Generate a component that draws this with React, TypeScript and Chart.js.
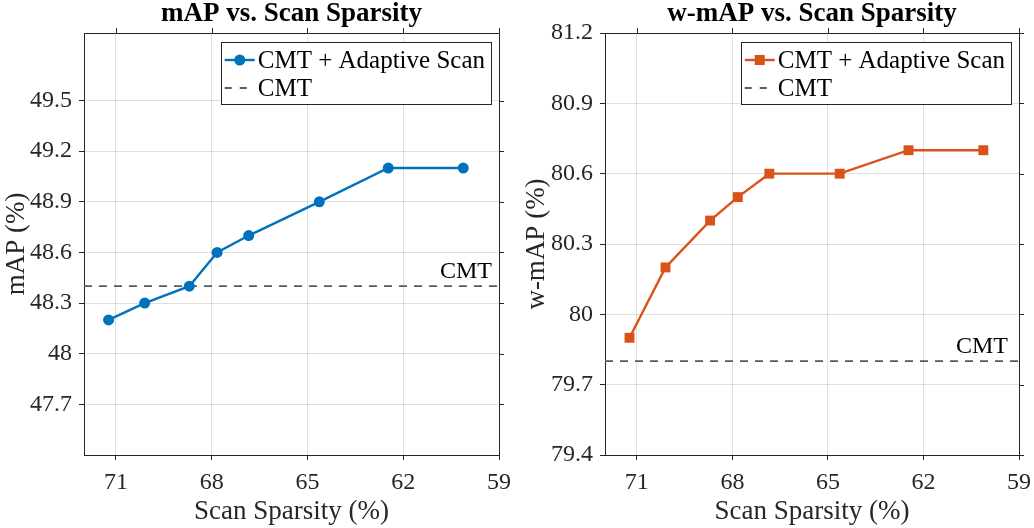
import React, { useEffect, useRef } from "react";
import { Chart, registerables } from "chart.js";

Chart.register(...registerables);

// ---------- data ----------
const sparsity = [71.23, 70.1, 68.7, 67.83, 66.84, 64.63, 62.47, 60.12];
const mapAdaptive = [48.2, 48.3, 48.4, 48.6, 48.7, 48.9, 49.1, 49.1];
const wmapAdaptive = [79.9, 80.2, 80.4, 80.5, 80.6, 80.6, 80.7, 80.7];
const mapCMT = 48.4;
const wmapCMT = 79.8;
const xRange = [59, 72];
const xTicks = [71, 68, 65, 62, 59];
const mapRange = [47.4, 49.9];
const mapTicks = [47.7, 48, 48.3, 48.6, 48.9, 49.2, 49.5];
const wmapRange = [79.4, 81.2];
const wmapTicks = [79.4, 79.7, 80, 80.3, 80.6, 80.9, 81.2];
const titles = ["mAP vs. Scan Sparsity", "w-mAP vs. Scan Sparsity"];
const yLabels = ["mAP (%)", "w-mAP (%)"];
const xLabel = "Scan Sparsity (%)";
const legendLabels = ["CMT + Adaptive Scan", "CMT"];

// ---------- style ----------
const FAMILY = '"Liberation Serif", "Times New Roman", serif';
const AXIS = "#262626";
const GRID = "rgba(38,38,38,0.15)";
const BLUE = "#0072BD";
const ORANGE = "#D95319";
const DASH = "#5a5a5a";
const DASH_PATTERN = [8, 7];

const decor = {
  id: "decor",
  afterDraw(chart: any, _args: any, opts: any) {
    const { ctx, chartArea: a, scales } = chart;
    const xs = scales.x;
    const ys = scales.y;
    ctx.save();
    // box top/right + outward ticks
    ctx.strokeStyle = AXIS;
    ctx.lineWidth = 1;
    ctx.beginPath();
    ctx.moveTo(a.left, a.top + 0.5);
    ctx.lineTo(a.right + 0.5, a.top + 0.5);
    ctx.lineTo(a.right + 0.5, a.bottom);
    for (const v of opts.xTicks) {
      const px = Math.round(xs.getPixelForValue(v)) + 0.5;
      ctx.moveTo(px, a.top);
      ctx.lineTo(px, a.top - 5);
    }
    for (const v of opts.yTicks) {
      const py = Math.round(ys.getPixelForValue(v)) + 0.5;
      ctx.moveTo(a.right, py);
      ctx.lineTo(a.right + 5, py);
    }
    ctx.stroke();

    // title
    ctx.fillStyle = "#000";
    ctx.font = `bold 27px ${FAMILY}`;
    ctx.textAlign = "center";
    ctx.textBaseline = "alphabetic";
    ctx.fillText(opts.title, (a.left + a.right) / 2, 21);

    // CMT label near dashed line
    const ly = ys.getPixelForValue(opts.cmt);
    ctx.font = `24px ${FAMILY}`;
    ctx.textAlign = "right";
    ctx.fillStyle = "#000";
    ctx.fillText("CMT", a.right - opts.cmtOffset, ly - 8);

    // legend
    ctx.font = `25px ${FAMILY}`;
    const tw = Math.max(...opts.labels.map((t: string) => ctx.measureText(t).width));
    const bw = 37 + tw + 6;
    const bh = 62;
    const bx = a.right - 8 - bw;
    const by = a.top + 9;
    ctx.fillStyle = "#fff";
    ctx.fillRect(bx, by, bw, bh);
    ctx.strokeStyle = AXIS;
    ctx.lineWidth = 1;
    ctx.strokeRect(Math.round(bx) + 0.5, by + 0.5, Math.round(bw), bh);
    const r1 = by + 18;
    const r2 = by + 46;
    // sample 1
    ctx.strokeStyle = opts.color;
    ctx.lineWidth = 2.4;
    ctx.beginPath();
    ctx.moveTo(bx + 4, r1);
    ctx.lineTo(bx + 34, r1);
    ctx.stroke();
    ctx.fillStyle = opts.color;
    if (opts.marker === "circle") {
      ctx.beginPath();
      ctx.arc(bx + 19, r1, 5.5, 0, Math.PI * 2);
      ctx.fill();
    } else {
      ctx.fillRect(bx + 19 - 5, r1 - 5, 10, 10);
    }
    // sample 2
    ctx.strokeStyle = DASH;
    ctx.lineWidth = 1.8;
    ctx.setLineDash([7, 8]);
    ctx.beginPath();
    ctx.moveTo(bx + 4, r2);
    ctx.lineTo(bx + 34, r2);
    ctx.stroke();
    ctx.setLineDash([]);
    ctx.fillStyle = "#000";
    ctx.textAlign = "left";
    ctx.textBaseline = "middle";
    ctx.fillText(opts.labels[0], bx + 37, r1 + 1);
    ctx.fillText(opts.labels[1], bx + 37, r2 + 1);
    ctx.restore();
  },
};

function fmt(v: any) {
  return String(Number(Number(v).toFixed(1)));
}

function makeConfig(p: any): any {
  const tickFont = { family: FAMILY, size: 24 };
  const titleFont = { family: FAMILY, size: 27 };
  return {
    type: "line",
    data: {
      datasets: [
        {
          label: legendLabels[0],
          data: sparsity.map((x, i) => ({ x, y: p.values[i] })),
          borderColor: p.color,
          backgroundColor: p.color,
          borderWidth: 2.4,
          pointStyle: p.marker === "circle" ? "circle" : "rect",
          pointRadius: p.marker === "circle" ? 5.5 : 7,
          pointBorderWidth: 0,
          pointHoverRadius: 0,
        },
        {
          label: legendLabels[1],
          data: [
            { x: xRange[1], y: p.cmt },
            { x: xRange[0], y: p.cmt },
          ],
          borderColor: DASH,
          borderWidth: 1.8,
          borderDash: DASH_PATTERN,
          pointRadius: 0,
        },
      ],
    },
    options: {
      animation: false,
      responsive: true,
      maintainAspectRatio: false,
      events: [],
      layout: { padding: { top: 33, right: p.padRight, left: 0, bottom: 0 } },
      plugins: {
        legend: { display: false },
        tooltip: { enabled: false },
        title: { display: false },
        decor: {
          title: p.title,
          cmt: p.cmt,
          cmtOffset: p.cmtOffset,
          labels: legendLabels,
          color: p.color,
          marker: p.marker,
          xTicks,
          yTicks: p.ticks,
        },
      },
      scales: {
        x: {
          type: "linear",
          min: xRange[0],
          max: xRange[1],
          reverse: true,
          afterBuildTicks: (s: any) => {
            s.ticks = xTicks.map((v) => ({ value: v }));
          },
          afterFit: (s: any) => {
            s.height = 73;
            s.paddingLeft = 0;
            s.paddingRight = 0;
          },
          grid: { color: GRID, tickColor: AXIS, tickLength: 5, drawTicks: true },
          border: { color: AXIS, width: 1 },
          ticks: {
            font: tickFont,
            color: AXIS,
            padding: 8,
            maxRotation: 0,
            autoSkip: false,
            callback: fmt,
          },
          title: {
            display: true,
            text: xLabel,
            font: titleFont,
            color: AXIS,
            padding: { top: 0, bottom: 0 },
          },
        },
        y: {
          type: "linear",
          min: p.range[0],
          max: p.range[1],
          afterBuildTicks: (s: any) => {
            s.ticks = p.ticks.map((v: number) => ({ value: v }));
          },
          afterFit: (s: any) => {
            s.width = p.yWidth;
            s.paddingTop = 0;
            s.paddingBottom = 0;
          },
          grid: { color: GRID, tickColor: AXIS, tickLength: 5, drawTicks: true },
          border: { color: AXIS, width: 1 },
          ticks: {
            font: tickFont,
            color: AXIS,
            padding: 7,
            autoSkip: false,
            callback: fmt,
          },
          title: {
            display: true,
            text: p.yLabel,
            font: titleFont,
            color: AXIS,
            padding: { top: p.yTitlePad, bottom: 0 },
          },
        },
      },
    },
    plugins: [decor],
  };
}

function Panel(props: { cfg: any; left: number; width: number }) {
  const ref = useRef<HTMLCanvasElement | null>(null);
  useEffect(() => {
    if (!ref.current) return;
    const chart = new Chart(ref.current, makeConfig(props.cfg));
    return () => chart.destroy();
  }, []);
  return (
    <div
      style={{
        position: "absolute",
        left: props.left,
        top: 0,
        width: props.width,
        height: 528,
      }}
    >
      <canvas ref={ref} />
    </div>
  );
}

export default function App() {
  const leftCfg = {
    values: mapAdaptive,
    cmt: mapCMT,
    range: mapRange,
    ticks: mapTicks,
    title: titles[0],
    yLabel: yLabels[0],
    color: BLUE,
    marker: "circle",
    padRight: 16,
    yWidth: 84,
    yTitlePad: 1,
    cmtOffset: 7,
  };
  const rightCfg = {
    values: wmapAdaptive,
    cmt: wmapCMT,
    range: wmapRange,
    ticks: wmapTicks,
    title: titles[1],
    yLabel: yLabels[1],
    color: ORANGE,
    marker: "rect",
    padRight: 15,
    yWidth: 90,
    yTitlePad: 6,
    cmtOffset: 11,
  };
  return (
    <div
      style={{
        position: "fixed",
        left: 0,
        top: 0,
        width: 1034,
        height: 528,
        background: "#fff",
      }}
    >
      <Panel cfg={leftCfg} left={0} width={515} />
      <Panel cfg={rightCfg} left={515} width={519} />
    </div>
  );
}
